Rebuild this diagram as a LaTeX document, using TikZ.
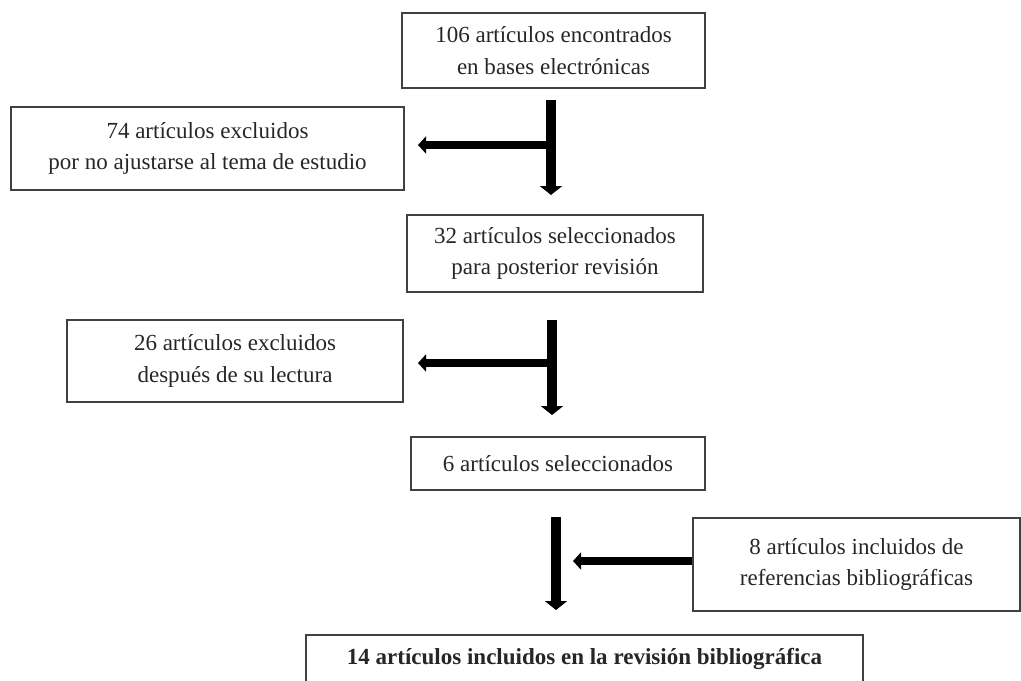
\documentclass[tikz,border=0pt]{standalone}
\usepackage{fontspec}
\setmainfont{Liberation Serif}
\usetikzlibrary{arrows.meta, calc}

\tikzset{
  caja/.style={draw=black!75, line width=0.7pt, align=center, inner sep=2pt,
    text=black!85, font=\fontsize{13.1}{18}\selectfont},
  bajada/.style={line width=5.7pt, -{Triangle[width=0.44cm,length=0.18cm]}},
  salida/.style={line width=4.5pt, -{Triangle[width=0.34cm,length=0.16cm]}}
}

\begin{document}
\begin{tikzpicture}[x=0.02cm, y=-0.02cm]
  \useasboundingbox (0,0) rectangle (1021,680);

  % Boxes
  \node[caja, minimum width=6.06cm, minimum height=1.5cm] (n106) at (553.5,50.5)
    {106 artículos encontrados\\en bases electrónicas};
  \node[caja, minimum width=7.86cm, minimum height=1.66cm] (n74) at (207.5,148.5)
    {74 artículos excluidos\\por no ajustarse al tema de estudio};
  \node[caja, minimum width=5.92cm, minimum height=1.54cm] (n32) at (555,253.5)
    {32 artículos seleccionados\\para posterior revisión};
  \node[caja, minimum width=6.72cm, minimum height=1.64cm] (n26) at (235,361)
    {26 artículos excluidos\\después de su lectura};
  \node[caja, minimum width=5.88cm, minimum height=1.06cm] (n6) at (558,463.5)
    {6 artículos seleccionados};
  \node[caja, minimum width=6.54cm, minimum height=1.86cm] (n8) at (856.5,564.5)
    {8 artículos incluidos de\\referencias bibliográficas};
  \node[caja, minimum width=11.14cm, minimum height=0.94cm] (n14) at (584.5,658.5)
    {\bfseries 14 artículos incluidos en la revisión bibliográfica};

  % Arrow ends
  \coordinate (a1) at (551,100);
  \coordinate (b1) at (551,195);
  \coordinate (c1) at (551,145);
  \coordinate (d1) at (418,145);
  \coordinate (a2) at (552,320);
  \coordinate (b2) at (552,415);
  \coordinate (c2) at (552,363);
  \coordinate (d2) at (418,363);
  \coordinate (a3) at (556,517);
  \coordinate (b3) at (556,610);
  \coordinate (d3) at (573,561);

  % Arrows
  \draw[bajada] (a1) -- (b1);
  \draw[salida] (c1) -- (d1);
  \draw[bajada] (a2) -- (b2);
  \draw[salida] (c2) -- (d2);
  \draw[bajada] (a3) -- (b3);
  \draw[salida] (n8.west |- d3) -- (d3);
\end{tikzpicture}
\end{document}
